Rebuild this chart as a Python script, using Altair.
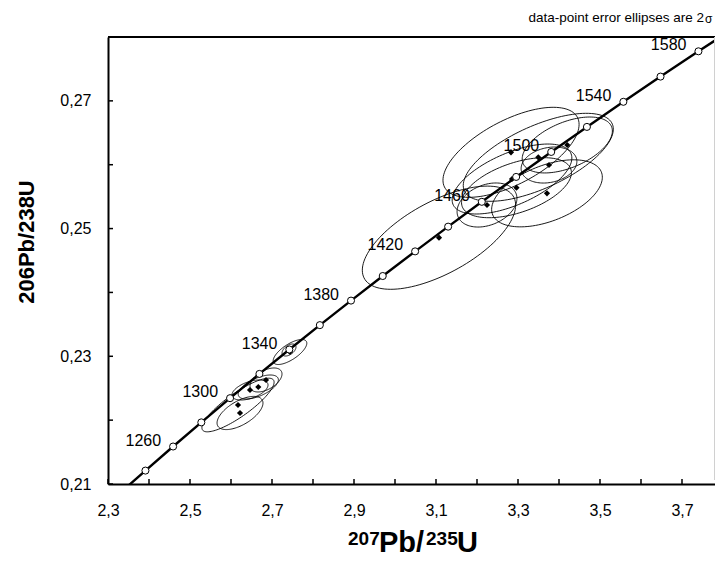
import altair as alt
import numpy as np
import pandas as pd

# ---- Concordia reference points (age in Ma, 207Pb/235U, 206Pb/238U) ----
ages = [1220, 1240, 1260, 1280, 1300, 1320, 1340, 1360, 1380, 1400,
        1420, 1440, 1460, 1480, 1500, 1520, 1540, 1560, 1580, 1600]
r207 = [2.3252, 2.3913, 2.4588, 2.5276, 2.5977, 2.6693, 2.7423, 2.8167, 2.8927, 2.9701,
        3.0491, 3.1296, 3.2117, 3.2955, 3.3810, 3.4681, 3.5570, 3.6476, 3.7401, 3.8344]
r206 = [0.20835, 0.21210, 0.21587, 0.21965, 0.22344, 0.22724, 0.23106, 0.23488, 0.23872, 0.24257,
        0.24643, 0.25030, 0.25419, 0.25809, 0.26200, 0.26592, 0.26985, 0.27380, 0.27776, 0.28173]
labelled_ages = [1260, 1300, 1340, 1380, 1420, 1460, 1500, 1540, 1580]

# ---- Analyses: centre, 2-sigma errors, error correlation ----
ell_x = [3.283, 3.3495, 3.4202, 3.3756, 3.2854, 3.2963, 3.3707, 3.1073, 3.2244,
         2.6171, 2.622, 2.6463, 2.6666, 2.6854, 2.7439, 2.7415]
ell_y = [0.26194, 0.26116, 0.26309, 0.25995, 0.25776, 0.25640, 0.25552, 0.24857, 0.25369,
         0.22237, 0.22112, 0.22472, 0.22519, 0.22629, 0.23067, 0.23098]
ell_ex = [0.166, 0.183, 0.110, 0.068, 0.146, 0.134, 0.135, 0.187, 0.073,
          0.088, 0.056, 0.044, 0.049, 0.039, 0.041, 0.017]
ell_ey = [0.00705, 0.00689, 0.00438, 0.00282, 0.00548, 0.0047, 0.00525, 0.00808, 0.00345,
          0.0042, 0.0026, 0.00157, 0.00188, 0.00188, 0.00196, 0.00094]
ell_rho = [0.62, 0.64, 0.5, 0.2, 0.6, 0.5, 0.48, 0.63, 0.3,
           0.85, 0.6, 0.5, 0.6, 0.5, 0.7, 0.5]

x_ticks = [2.3, 2.4, 2.5, 2.6, 2.7, 2.8, 2.9, 3.0, 3.1, 3.2, 3.3, 3.4, 3.5, 3.6, 3.7]
x_labels = [2.3, 2.5, 2.7, 2.9, 3.1, 3.3, 3.5, 3.7]
y_ticks = [0.21, 0.22, 0.23, 0.24, 0.25, 0.26, 0.27, 0.28]
y_labels = [0.21, 0.23, 0.25, 0.27]

FONT = "Liberation Sans"
W, H = 607, 447
# the original axis runs to 3.8 but is cut off by the picture's right edge
XD = [2.3, 2.3 + W / 410.0]
YD = [0.21, 0.28]

conc = pd.DataFrame({"age": ages, "x": r207, "y": r206})
marks = conc[(conc.age >= 1240) & (conc.age <= 1580)]
labs = conc[conc.age.isin(labelled_ages)].copy()
labs["txt"] = labs.age.astype(str)

rows = []
t = np.linspace(0, 2 * np.pi, 121)
for i in range(len(ell_x)):
    r = ell_rho[i]
    ex = ell_x[i] + ell_ex[i] * np.cos(t)
    ey = ell_y[i] + ell_ey[i] * (r * np.cos(t) + np.sqrt(1 - r * r) * np.sin(t))
    for k in range(len(t)):
        rows.append({"id": i, "k": k, "x": ex[k], "y": ey[k]})
ell = pd.DataFrame(rows)
pts = pd.DataFrame({"x": ell_x, "y": ell_y})

xs = alt.Scale(domain=XD, nice=False, zero=False)
ys = alt.Scale(domain=YD, nice=False, zero=False)

xaxis = alt.Axis(values=x_labels, ticks=False, domain=True, domainColor="black",
                 domainWidth=2, grid=False, labelFlush=False, labelOverlap=False,
                 labelExpr="replace(format(datum.value, '.1f'), '.', ',')",
                 labelFont=FONT, labelFontSize=16, labelColor="black", labelPadding=18,
                 title=None)
yaxis = alt.Axis(values=y_labels, ticks=False, domain=True, domainColor="black",
                 domainWidth=2, grid=False, labelFlush=False, labelOverlap=False,
                 labelExpr="replace(format(datum.value, '.2f'), '.', ',')",
                 labelFont=FONT, labelFontSize=16, labelColor="black", labelPadding=17,
                 title=None)

ellipses = alt.Chart(ell).mark_line(color="black", strokeWidth=0.9, clip=True).encode(
    x=alt.X("x:Q", scale=xs, axis=xaxis),
    y=alt.Y("y:Q", scale=ys, axis=yaxis),
    detail="id:N",
    order="k:Q",
)

curve = alt.Chart(conc).mark_line(color="black", strokeWidth=2.4, clip=True,
                                   interpolate="monotone").encode(
    x=alt.X("x:Q", scale=xs), y=alt.Y("y:Q", scale=ys), order="age:Q")

diamonds = alt.Chart(pts).mark_point(shape="diamond", filled=True, color="black",
                                     size=38, opacity=1).encode(
    x=alt.X("x:Q", scale=xs), y=alt.Y("y:Q", scale=ys))

circles = alt.Chart(marks).mark_point(shape="circle", filled=True, fill="white",
                                      stroke="black", strokeWidth=1, size=50,
                                      opacity=1).encode(
    x=alt.X("x:Q", scale=xs), y=alt.Y("y:Q", scale=ys))

agetext = alt.Chart(labs).mark_text(font=FONT, fontSize=16, align="right",
                                    baseline="middle", dx=-12, dy=-6,
                                    color="black").encode(
    x=alt.X("x:Q", scale=xs), y=alt.Y("y:Q", scale=ys), text="txt:N")

xt = pd.DataFrame({"v": x_ticks})
yt = pd.DataFrame({"v": y_ticks})
xtick_marks = alt.Chart(xt).mark_rule(color="black", strokeWidth=1.5).encode(
    x=alt.X("v:Q", scale=xs), y=alt.value(H), y2=alt.value(H - 5))
ytick_marks = alt.Chart(yt).mark_rule(color="black", strokeWidth=1.5).encode(
    y=alt.Y("v:Q", scale=ys), x=alt.value(0), x2=alt.value(5))

top_line = alt.Chart(pd.DataFrame({"a": [0]})).mark_rule(color="black", strokeWidth=2).encode(
    x=alt.value(0), x2=alt.value(W), y=alt.value(0))
right_line = alt.Chart(pd.DataFrame({"a": [0]})).mark_rule(color="#d0d0d0", strokeWidth=1).encode(
    x=alt.value(W - 0.5), y=alt.value(0), y2=alt.value(H - 4))

# axis titles and note
ytitle = alt.Chart(pd.DataFrame({"t": ["206Pb/238U"]})).mark_text(
    font=FONT, fontSize=22, fontWeight="bold", angle=270, align="center",
    baseline="middle", color="black").encode(
    text="t:N", x=alt.value(-81), y=alt.value(205))

xt_parts = pd.DataFrame({
    "t": ["207", "Pb/", "235", "U"],
    "px": [240, 271, 318, 349],
    "py": [508, 515, 508, 515],
    "fs": [19, 29, 19, 29],
})
xtitle = alt.Chart(xt_parts).mark_text(
    font=FONT, fontWeight="bold", align="left", baseline="alphabetic",
    color="black").encode(
    text="t:N",
    x=alt.X("px:Q", scale=None),
    y=alt.Y("py:Q", scale=None),
    size=alt.Size("fs:Q", scale=None, legend=None),
)

note = alt.Chart(pd.DataFrame({"t": ["data-point error ellipses are 2"]})).mark_text(
    font=FONT, fontSize=13.5, align="right", baseline="alphabetic",
    color="black").encode(text="t:N", x=alt.value(596), y=alt.value(-15))
sigma = alt.Chart(pd.DataFrame({"t": ["σ"]})).mark_text(
    font=FONT, fontSize=12, align="left", baseline="alphabetic",
    color="black").encode(text="t:N", x=alt.value(597), y=alt.value(-14))

chart = alt.layer(
    ellipses, curve, diamonds, circles, agetext, xtick_marks, ytick_marks,
    top_line, right_line, ytitle, xtitle, note, sigma
).properties(
    width=W, height=H,
    autosize=alt.AutoSizeParams(type="none"),
    padding={"left": 100, "top": 29, "right": 0, "bottom": 75},
).configure_view(
    stroke=None
).configure(background="white")

chart.save("out.html", embed_options={"renderer": "svg", "actions": False})
